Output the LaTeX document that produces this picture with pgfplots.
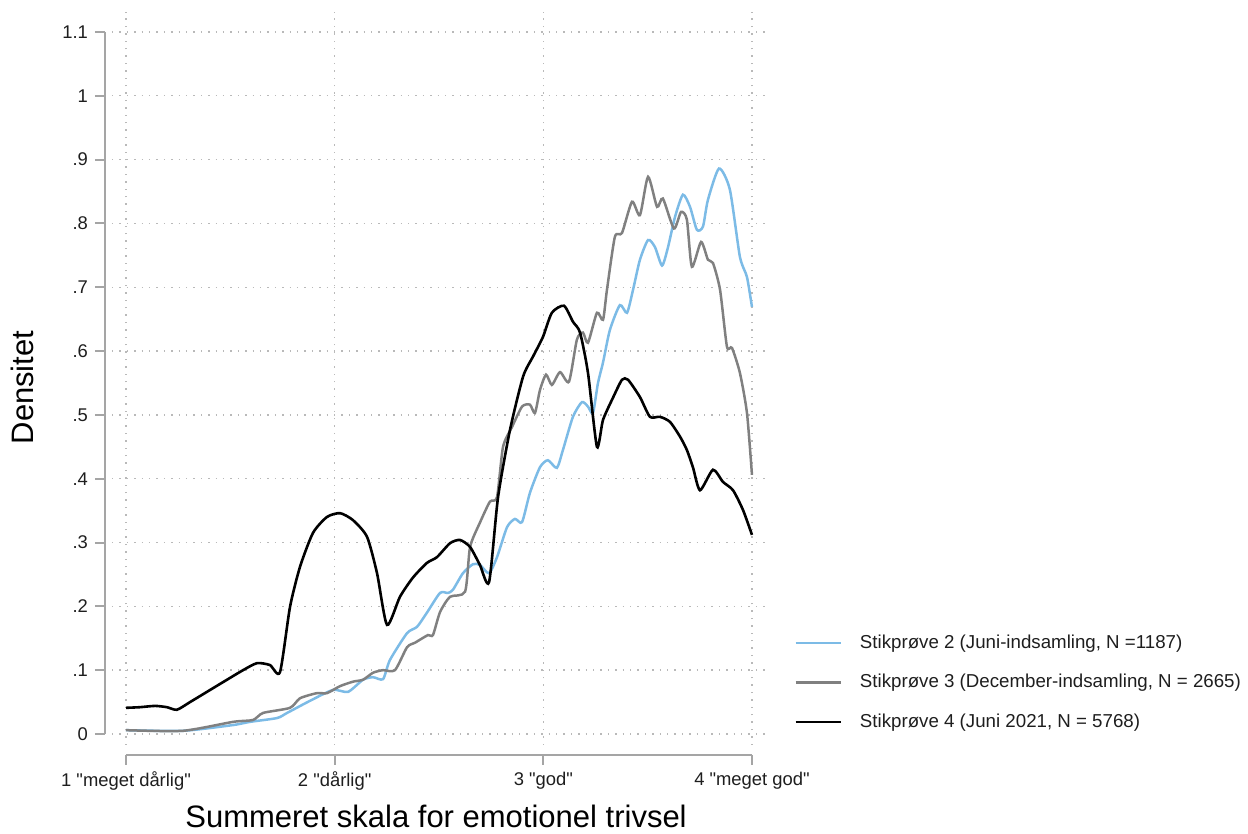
\documentclass[border=0pt]{standalone}
\usepackage{fontspec}
\setmainfont{Liberation Sans}[Ligatures=TeXOff]
\usepackage{pgfplots}
\pgfplotsset{compat=1.18}
\definecolor{ltblue}{RGB}{124,187,230}
\definecolor{midgray}{RGB}{128,128,128}
\definecolor{axisgray}{RGB}{165,165,165}
\definecolor{gridgray}{RGB}{185,185,185}
\definecolor{txt}{RGB}{30,30,30}
\begin{document}
\begin{tikzpicture}
\begin{axis}[
  scale only axis, width=327.5pt, height=366.5pt,
  xmin=0.9329, xmax=4.072, ymin=-0.01724, ymax=1.1313,
  axis x line*=bottom, axis y line*=left,
  axis x line shift=5pt, axis y line shift=3.5pt,
  x axis line style={-, draw=axisgray, line width=1pt, shorten <=7pt, shorten >=7.5pt},
  y axis line style={-, draw=axisgray, line width=1pt, shorten <=5.5pt, shorten >=10pt},
  xtick={1,2,3,4},
  xticklabels={1 "meget dårlig",2 "dårlig",3 "god",4 "meget god"},
  ytick={0,0.1,0.2,0.3,0.4,0.5,0.6,0.7,0.8,0.9,1,1.1},
  yticklabels={0,.1,.2,.3,.4,.5,.6,.7,.8,.9,1,1.1},
  /pgf/number format/assume math mode=true,
  tick align=outside, major tick length=5pt,
  tick style={axisgray, line width=1pt},
  grid=major,
  major grid style={gridgray, line width=0.7pt, dash pattern=on 0.7pt off 3pt},
  tick label style={font=\fontsize{9.2}{11}\selectfont, text=txt},
  xlabel={Summeret skala for emotionel trivsel},
  ylabel={Densitet},
  label style={font=\fontsize{15.5}{18}\selectfont},
  xlabel style={at={(axis description cs:0.4947,-0.1119)}, anchor=base},
  ylabel style={at={(axis description cs:-0.1206,0.4877)}, anchor=base, rotate=0},
  legend cell align=left,
  legend image code/.code={\draw[#1] (0pt,0pt) -- (22.5pt,0pt);},
  legend style={at={(axis description cs:1.0412,0.1512)}, anchor=north west,
    draw=none, fill=none, inner sep=0pt, row sep=11.5pt,
    font=\fontsize{9.35}{11}\selectfont, text=txt,
    nodes={inner sep=0pt},
    /tikz/every odd column/.append style={column sep=9pt}},
]
\addplot[ltblue, line width=1.25pt, smooth, tension=0.4] coordinates {
(1.000,0.006) (1.273,0.005) (1.513,0.014) (1.594,0.019) (1.724,0.025) (1.772,0.033)
(1.882,0.052) (1.992,0.069) (2.064,0.066) (2.136,0.085) (2.184,0.089) (2.232,0.086)
(2.265,0.116) (2.347,0.158) (2.395,0.168) (2.442,0.190) (2.505,0.221) (2.543,0.221)
(2.567,0.226) (2.615,0.252) (2.663,0.266) (2.696,0.265) (2.740,0.252) (2.778,0.277)
(2.826,0.324) (2.864,0.337) (2.898,0.332) (2.936,0.378) (2.984,0.418) (3.022,0.429)
(3.065,0.417) (3.094,0.445) (3.142,0.497) (3.185,0.520) (3.214,0.513) (3.238,0.503)
(3.262,0.550) (3.286,0.582) (3.319,0.633) (3.367,0.672) (3.401,0.660) (3.430,0.696)
(3.463,0.743) (3.502,0.774) (3.535,0.763) (3.569,0.734) (3.597,0.762) (3.631,0.810)
(3.669,0.845) (3.703,0.826) (3.736,0.790) (3.765,0.795) (3.789,0.837) (3.842,0.886)
(3.894,0.853) (3.942,0.748) (3.976,0.716) (4.000,0.669)
};
\addlegendentry{Stikprøve 2 (Juni-indsamling, N =1187)}
\addplot[midgray, line width=1.25pt, smooth, tension=0.4] coordinates {
(1.000,0.006) (1.273,0.005) (1.513,0.019) (1.609,0.022) (1.657,0.033) (1.786,0.041)
(1.834,0.056) (1.915,0.064) (1.963,0.064) (2.026,0.075) (2.088,0.082) (2.136,0.085)
(2.184,0.096) (2.232,0.100) (2.289,0.100) (2.347,0.136) (2.385,0.143) (2.447,0.155)
(2.471,0.155) (2.505,0.191) (2.553,0.215) (2.625,0.223) (2.649,0.293) (2.696,0.331)
(2.744,0.364) (2.778,0.371) (2.807,0.450) (2.850,0.481) (2.898,0.513) (2.936,0.516)
(2.960,0.503) (2.984,0.539) (3.013,0.563) (3.041,0.547) (3.080,0.567) (3.123,0.552)
(3.161,0.618) (3.190,0.629) (3.214,0.613) (3.257,0.660) (3.286,0.649) (3.305,0.696)
(3.343,0.779) (3.377,0.785) (3.425,0.834) (3.463,0.813) (3.502,0.873) (3.545,0.826)
(3.573,0.839) (3.626,0.792) (3.660,0.818) (3.688,0.806) (3.712,0.732) (3.756,0.771)
(3.789,0.743) (3.813,0.738) (3.847,0.696) (3.880,0.607) (3.904,0.605) (3.942,0.566)
(3.976,0.503) (4.000,0.406)
};
\addlegendentry{Stikprøve 3 (December-indsamling, N = 2665)}
\addplot[black, line width=1.3pt, smooth, tension=0.4] coordinates {
(1.000,0.041) (1.067,0.042) (1.139,0.044) (1.196,0.042) (1.244,0.038) (1.307,0.050)
(1.403,0.069) (1.484,0.085) (1.561,0.100) (1.628,0.111) (1.690,0.108) (1.738,0.097)
(1.786,0.199) (1.834,0.262) (1.896,0.315) (1.963,0.340) (2.026,0.346) (2.088,0.335)
(2.155,0.309) (2.203,0.252) (2.251,0.171) (2.313,0.215) (2.375,0.245) (2.442,0.268)
(2.490,0.277) (2.553,0.299) (2.601,0.304) (2.649,0.293) (2.696,0.265) (2.740,0.238)
(2.783,0.371) (2.840,0.476) (2.903,0.560) (2.950,0.591) (2.998,0.622) (3.041,0.660)
(3.099,0.671) (3.142,0.646) (3.176,0.629) (3.214,0.566) (3.257,0.450) (3.286,0.492)
(3.334,0.527) (3.377,0.555) (3.406,0.555) (3.463,0.528) (3.511,0.497) (3.559,0.497)
(3.607,0.489) (3.655,0.466) (3.688,0.445) (3.717,0.418) (3.751,0.382) (3.813,0.414)
(3.861,0.395) (3.909,0.382) (3.957,0.351) (4.000,0.312)
};
\addlegendentry{Stikprøve 4 (Juni 2021, N = 5768)}
\coordinate (bl) at (rel axis cs:0,0);
\coordinate (tr) at (rel axis cs:1,1);
\end{axis}
\pgfresetboundingbox
\useasboundingbox ([xshift=-56pt,yshift=-44.5pt]bl) rectangle ([xshift=240.5pt,yshift=6pt]tr);
\end{tikzpicture}
\end{document}
